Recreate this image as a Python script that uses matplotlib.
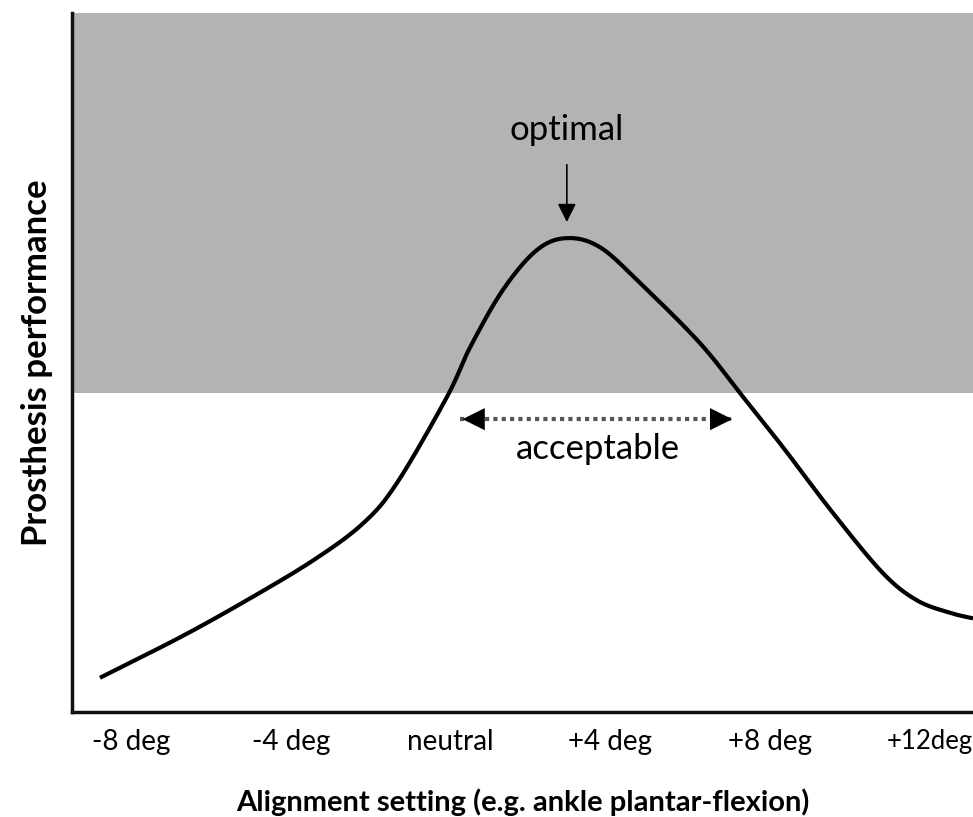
import numpy as np
import matplotlib.pyplot as plt

plt.rcParams['font.family'] = ['Lato', 'DejaVu Sans']

# alignment (deg) vs prosthesis performance (0..1)
align_deg = [-8.78, -6.77, -5.10, -3.44, -2.19, -1.34, -0.09, 0.49, 1.31,
             2.16, 2.91, 3.74, 4.74, 6.24, 7.32, 8.32, 9.57, 10.82,
             11.67, 12.50, 13.08]
performance = [0.049, 0.107, 0.160, 0.217, 0.270, 0.328, 0.451, 0.522, 0.604,
               0.661, 0.678, 0.665, 0.614, 0.528, 0.451, 0.379, 0.285, 0.199,
               0.160, 0.142, 0.134]

tick_deg = [-8, -4, 0, 4, 8, 12]
tick_labels = ['-8 deg', '-4 deg', 'neutral', '+4 deg', '+8 deg', '+12deg']

threshold = 0.456
optimal_x = 2.91
acceptable_range = [0.23, 7.12]


def smooth(xs, ys, n=20):
    # catmull-rom through the read points, only to draw a round line
    x = np.asarray(xs, float)
    y = np.asarray(ys, float)
    x = np.r_[2 * x[0] - x[1], x, 2 * x[-1] - x[-2]]
    y = np.r_[2 * y[0] - y[1], y, 2 * y[-1] - y[-2]]
    ox, oy = [], []
    t = np.linspace(0, 1, n, endpoint=False)
    for i in range(1, len(x) - 2):
        for arr, out in ((x, ox), (y, oy)):
            p0, p1, p2, p3 = arr[i - 1], arr[i], arr[i + 1], arr[i + 2]
            out.extend(0.5 * (2 * p1 + (-p0 + p2) * t
                              + (2 * p0 - 5 * p1 + 4 * p2 - p3) * t ** 2
                              + (-p0 + 3 * p1 - 3 * p2 + p3) * t ** 3))
    ox.append(x[-2])
    oy.append(y[-2])
    return ox, oy


fig = plt.figure(figsize=(9.73, 8.17), dpi=100)
ax = fig.add_axes([0.074, 0.1285, 0.926, 0.8555])

ax.set_xlim(-9.48, 13.08)
ax.set_ylim(0, 1)

ax.axhspan(threshold, 1, color='#b3b3b3', lw=0, zorder=0)
sx, sy = smooth(align_deg, performance)
ax.plot(sx, sy, color='black', lw=3, solid_capstyle='butt', zorder=3)

# optimal arrow
ax.annotate('', xy=(optimal_x, 0.697), xytext=(optimal_x, 0.787),
            arrowprops=dict(arrowstyle='-|>', color='black', lw=1.2,
                            mutation_scale=28))
ax.text(optimal_x, 0.833, 'optimal', ha='center', va='center', fontsize=25)

# acceptable range
y_acc = 0.419
ax.plot(acceptable_range, [y_acc, y_acc], color='#555555', lw=3,
        linestyle=(0, (1, 1)), zorder=2)
ax.annotate('', xy=(acceptable_range[0], y_acc), xytext=(acceptable_range[0] + 0.6, y_acc),
            arrowprops=dict(arrowstyle='-|>', color='black', lw=0, mutation_scale=40))
ax.annotate('', xy=(acceptable_range[1], y_acc), xytext=(acceptable_range[1] - 0.6, y_acc),
            arrowprops=dict(arrowstyle='-|>', color='black', lw=0, mutation_scale=40))
ax.text(3.7, 0.377, 'acceptable', ha='center', va='center', fontsize=25)

ax.set_xticks(tick_deg)
labels = ax.set_xticklabels(tick_labels, fontsize=20)
labels[-1].set_fontsize(18.5)  # last one sits right at the edge
ax.set_yticks([])
ax.tick_params(axis='x', length=0, pad=12)

for s in ['top', 'right']:
    ax.spines[s].set_visible(False)
for s in ['left', 'bottom']:
    ax.spines[s].set_linewidth(2.5)
    ax.spines[s].set_color('#111111')

ax.set_xlabel('Alignment setting (e.g. ankle plantar-flexion)', fontsize=21,
              fontweight='bold', labelpad=24)
ax.set_ylabel('Prosthesis performance', fontsize=25, fontweight='bold', labelpad=14)

fig.savefig('out.png', dpi=100)
